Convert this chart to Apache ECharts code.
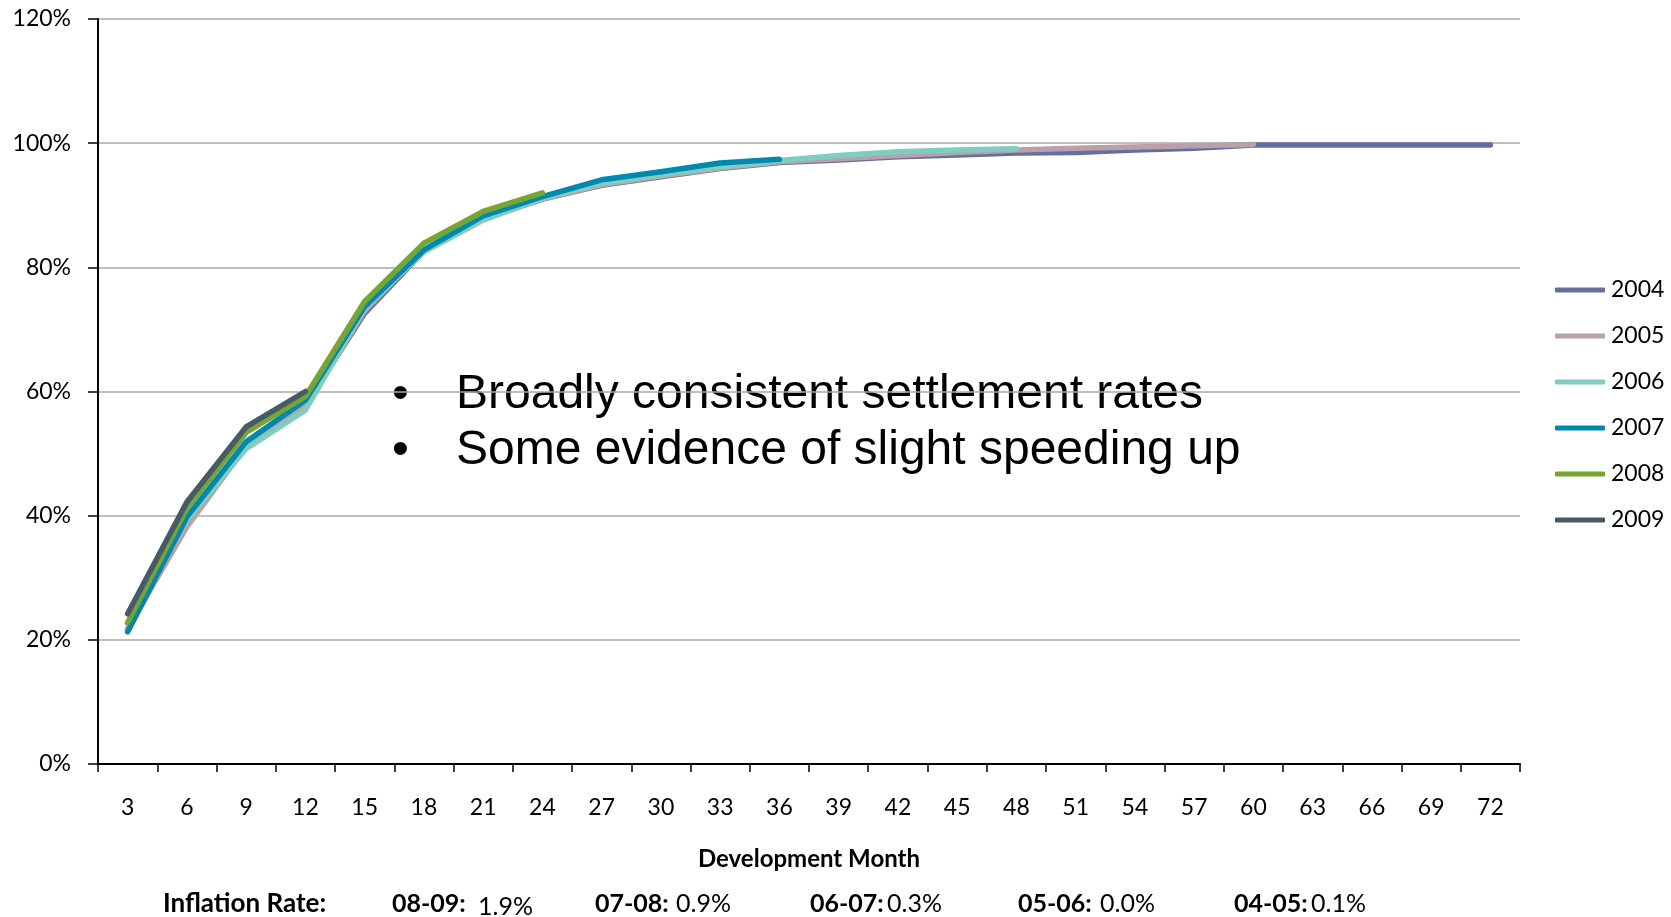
<!DOCTYPE html>
<html>
<head>
<meta charset="utf-8">
<script src="https://cdn.jsdelivr.net/npm/echarts@6/dist/echarts.min.js"></script>
<style>
  html, body { margin: 0; padding: 0; background: #fff; }
  #chart { width: 1671px; height: 917px; }
</style>
</head>
<body>
<div id="chart"></div>
<script>
// Development months (x-axis categories)
const months = ['3','6','9','12','15','18','21','24','27','30','33','36','39','42','45','48','51','54','57','60','63','66','69','72'];

// Cumulative settled percentage by accident year
const y2004 = [21.5, 39.0, 51.7, 57.8, 72.6, 82.6, 87.8, 91.0, 93.2, 94.6, 95.9, 96.9, 97.3, 97.8, 98.1, 98.4, 98.5, 98.9, 99.2, 99.7, 99.7, 99.7, 99.7, 99.7];
const y2005 = [21.8, 38.2, 51.2, 57.6, 73.0, 82.8, 87.9, 91.0, 93.3, 94.7, 96.0, 97.0, 97.5, 98.0, 98.5, 98.9, 99.2, 99.4, 99.6, 99.8];
const y2006 = [22.6, 39.3, 50.8, 57.0, 73.4, 82.5, 87.6, 91.1, 93.5, 94.9, 96.2, 97.2, 98.0, 98.6, 98.9, 99.1];
const y2007 = [21.3, 39.8, 51.9, 58.6, 73.7, 82.8, 88.3, 91.4, 94.1, 95.4, 96.8, 97.4];
const y2008 = [22.8, 41.2, 53.4, 59.2, 74.5, 83.9, 89.0, 92.0];
const y2009 = [24.2, 42.2, 54.3, 60.0];

const years = ['2004', '2005', '2006', '2007', '2008', '2009'];
const yearValues = [y2004, y2005, y2006, y2007, y2008, y2009];
const yearColors = ['#646EA0', '#B9A0AA', '#7DCDC1', '#0089AF', '#78A532', '#465A69'];

// Commentary and inflation footnote
const bullets = ['Broadly consistent settlement rates', 'Some evidence of slight speeding up'];
const inflationTitle = 'Inflation Rate:';
const inflationPeriods = ['08-09:', '07-08:', '06-07:', '05-06:', '04-05:'];
const inflationRates = ['1.9%', '0.9%', '0.3%', '0.0%', '0.1%'];

const labelFont = 'Lato, "Open Sans", sans-serif';
const bulletFont = '48px "Liberation Sans", Arial, sans-serif';

const chart = echarts.init(document.getElementById('chart'), null, { renderer: 'canvas' });

const series = years.map((name, i) => ({
  name: name,
  type: 'line',
  data: yearValues[i],
  showSymbol: false,
  symbol: 'none',
  smooth: false,
  color: yearColors[i],
  lineStyle: { width: 5.5, color: yearColors[i], cap: 'round', join: 'round' },
  emphasis: { disabled: true },
  z: 2 + i
}));

// Footnote pieces placed along the bottom row
const periodX = [392, 595, 810, 1018, 1234];
const rateX = [478, 676, 887, 1100, 1311];
const footTop = 891;
const footGraphics = [
  { type: 'text', left: 163, top: footTop, style: { text: inflationTitle, font: 'bold 26px ' + labelFont, fill: '#000' } }
];
inflationPeriods.forEach((p, i) => {
  footGraphics.push({ type: 'text', left: periodX[i], top: footTop, style: { text: p, font: 'bold 25px ' + labelFont, fill: '#000' } });
  footGraphics.push({ type: 'text', left: rateX[i], top: i === 0 ? footTop + 3 : footTop, style: { text: inflationRates[i], font: '25px ' + labelFont, fill: '#000' } });
});

const bulletGraphics = [];
bullets.forEach((b, i) => {
  const cy = 395 + i * 56;
  bulletGraphics.push({ type: 'text', x: 392, y: cy, style: { text: '\u2022', font: bulletFont, fill: '#000', verticalAlign: 'middle' } });
  bulletGraphics.push({ type: 'text', x: 456, y: cy, style: { text: b, font: bulletFont, fill: '#000', verticalAlign: 'middle' } });
});

chart.setOption({
  animation: false,
  backgroundColor: '#ffffff',
  grid: { left: 98, right: 151, top: 19, bottom: 153, containLabel: false },
  legend: {
    orient: 'vertical',
    left: 1550,
    top: 273,
    icon: 'roundRect',
    itemWidth: 50,
    itemHeight: 5,
    itemGap: 22,
    selectedMode: false,
    data: years,
    textStyle: { fontFamily: labelFont, fontSize: 23, color: '#000', lineHeight: 24, padding: [0, 0, 0, 1] }
  },
  xAxis: {
    type: 'category',
    data: months,
    boundaryGap: true,
    name: 'Development Month',
    nameLocation: 'middle',
    nameGap: 83,
    nameTextStyle: { fontFamily: labelFont, fontWeight: 'bold', fontSize: 24, color: '#000' },
    axisLine: { show: true, lineStyle: { color: '#000', width: 2 } },
    axisTick: { show: true, length: 8, alignWithLabel: false, lineStyle: { color: '#000', width: 1.5 } },
    axisLabel: { margin: 32, fontFamily: labelFont, fontSize: 23, color: '#000', interval: 0 },
    splitLine: { show: false }
  },
  yAxis: {
    type: 'value',
    min: 0,
    max: 120,
    interval: 20,
    axisLine: { show: true, lineStyle: { color: '#000', width: 2 } },
    axisTick: { show: true, length: 10, lineStyle: { color: '#000', width: 1.5 } },
    axisLabel: { margin: 27, fontFamily: labelFont, fontSize: 23, color: '#000', formatter: '{value}%' },
    splitLine: { show: true, lineStyle: { color: '#A8A8A8', width: 1.6 } }
  },
  series: series,
  graphic: bulletGraphics.concat(footGraphics)
});
</script>
</body>
</html>
